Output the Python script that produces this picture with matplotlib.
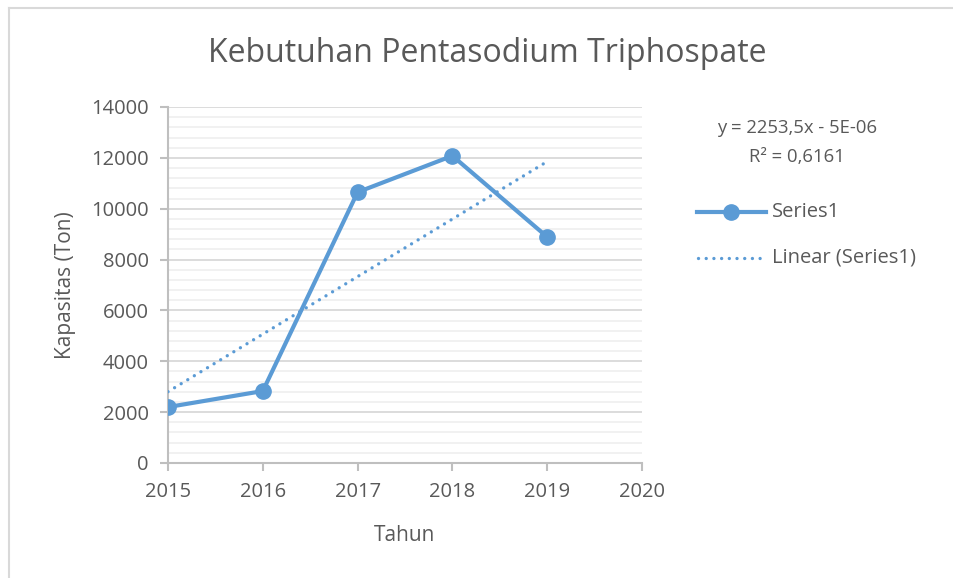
import numpy as np
import matplotlib.pyplot as plt
from matplotlib.lines import Line2D

# data
tahun     = [2015, 2016, 2017, 2018, 2019]
kapasitas = [2200, 2830, 10650, 12080, 8890]
eq_label  = "y = 2253,5x - 5E-06"
r2_label  = "R² = 0,6161"

blue  = "#5b9bd5"
grey  = "#595959"
axisc = "#bfbfbf"
dots  = (0, (0.01, 2.3))

plt.rcParams['font.family'] = ['Open Sans', 'DejaVu Sans']

fig = plt.figure(figsize=(9.54, 5.78), dpi=100)
ax  = fig.add_axes([168/954, 1-463/578, (642-168)/954, (463-107)/578])

# linear trend (Excel style, x = 1..n)
xi = np.arange(1, len(tahun) + 1)
k, c = np.polyfit(xi, kapasitas, 1)
ax.plot(tahun, k*xi + c, color=blue, lw=2.4, linestyle=dots,
        dash_capstyle="round", zorder=3)
ax.plot(tahun, kapasitas, color=blue, lw=3, marker="o", ms=11, zorder=4)

ax.set_xlim(2015, 2020)
ax.set_ylim(0, 14000)
ax.set_xticks(range(2015, 2021))
ax.set_yticks(range(0, 14001, 2000))
ax.set_yticks(range(0, 14001, 400), minor=True)
ax.grid(axis="y", which="major", color="#d9d9d9", lw=1.3)
ax.grid(axis="y", which="minor", color="#f0f0f0", lw=1.3)
ax.set_axisbelow(True)

for s in ["top", "right"]:
    ax.spines[s].set_visible(False)
for s in ["left", "bottom"]:
    ax.spines[s].set_color(axisc)
    ax.spines[s].set_linewidth(1.5)
ax.tick_params(axis="both", which="major", color=axisc, width=1.5, length=6,
               labelsize=14.5, labelcolor=grey, pad=8)
ax.tick_params(axis="y", which="minor", length=0)

ax.set_xlabel("Tahun", fontsize=15, color=grey, labelpad=16)
ax.set_ylabel("Kapasitas (Ton)", fontsize=15, color=grey, labelpad=11)
fig.text(487/954, 1-53/578, "Kebutuhan Pentasodium Triphospate", fontsize=23,
         color=grey, ha="center", va="center")

fig.text(797/954, 1-128/578, eq_label, fontsize=13.3, color=grey, ha="center", va="center")
fig.text(797/954, 1-157/578, r2_label, fontsize=13.3, color=grey, ha="center", va="center")

# legend drawn by hand to match the Excel layout
fig.add_artist(Line2D([697/954, 766/954], [1-212/578]*2, color=blue, lw=3))
fig.add_artist(Line2D([731.5/954], [1-212/578], color=blue, marker="o", ms=11))
fig.text(772/954, 1-212/578, "Series1", fontsize=14.5, color=grey, va="center")
fig.add_artist(Line2D([698/954, 766/954], [1-258/578]*2, color=blue, lw=2.4,
                      linestyle=dots, dash_capstyle="round"))
fig.text(772/954, 1-258/578, "Linear (Series1)", fontsize=14.5, color=grey, va="center")

# chart area frame
fig.add_artist(Line2D([9.5/954, 9.5/954], [0, 1-8/578], color="#d9d9d9", lw=1.5))
fig.add_artist(Line2D([9.5/954, 1], [1-8/578, 1-8/578], color="#d9d9d9", lw=1.5))

fig.savefig("out.png", dpi=100)
